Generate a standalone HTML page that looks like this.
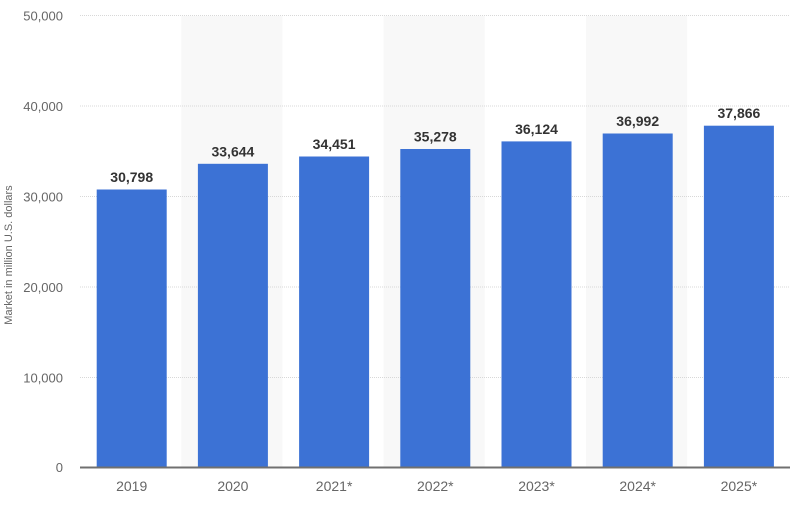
<!DOCTYPE html>
<html><head><meta charset="utf-8"><style>
html,body{margin:0;padding:0;background:#fff;}
svg{display:block;font-family:"Liberation Sans",sans-serif;}
</style></head><body>
<svg width="812" height="510" viewBox="0 0 812 510" xmlns="http://www.w3.org/2000/svg">
<rect width="812" height="510" fill="#fff"/>
<!-- shaded bands -->
<rect x="181.2" y="16" width="101.2" height="451" fill="#f8f8f8"/>
<rect x="383.6" y="16" width="101.2" height="451" fill="#f8f8f8"/>
<rect x="586" y="16" width="101.2" height="451" fill="#f8f8f8"/>
<!-- gridlines -->
<g stroke="#d8d8d8" stroke-width="1" stroke-dasharray="1,1">
<line x1="80" y1="15.5" x2="790" y2="15.5"/>
<line x1="80" y1="106" x2="790" y2="106"/>
<line x1="80" y1="196.5" x2="790" y2="196.5"/>
<line x1="80" y1="287" x2="790" y2="287"/>
<line x1="80" y1="377.5" x2="790" y2="377.5"/>
</g>
<!-- y tick labels -->
<g fill="#666" font-size="13" text-anchor="end">
<text x="63" y="20.5">50,000</text>
<text x="63" y="111">40,000</text>
<text x="63" y="201.5">30,000</text>
<text x="63" y="292">20,000</text>
<text x="63" y="382.5">10,000</text>
<text x="63" y="472">0</text>
</g>
<text transform="translate(12,255) rotate(-90)" fill="#666" font-size="11" text-anchor="middle">Market in million U.S. dollars</text>
<!-- bars -->
<g fill="#3c72d5">
<rect x="96.7" y="189.5" width="70" height="278"/>
<rect x="197.9" y="163.8" width="70" height="303.7"/>
<rect x="299.1" y="156.5" width="70" height="311"/>
<rect x="400.3" y="149" width="70" height="318.5"/>
<rect x="501.5" y="141.4" width="70" height="326.1"/>
<rect x="602.7" y="133.5" width="70" height="334"/>
<rect x="703.9" y="125.7" width="70" height="341.8"/>
</g>
<!-- value labels -->
<g fill="#333" font-size="14" font-weight="bold" text-anchor="middle">
<text x="131.7" y="182">30,798</text>
<text x="232.9" y="156.3">33,644</text>
<text x="334.1" y="149">34,451</text>
<text x="435.3" y="141.5">35,278</text>
<text x="536.5" y="133.9">36,124</text>
<text x="637.7" y="126">36,992</text>
<text x="738.9" y="118.2">37,866</text>
</g>
<!-- axis -->
<line x1="80" y1="467.5" x2="790" y2="467.5" stroke="#707070" stroke-width="2"/>
<!-- x labels -->
<g fill="#666" font-size="14" text-anchor="middle">
<text x="131.7" y="491">2019</text>
<text x="232.9" y="491">2020</text>
<text x="334.1" y="491">2021*</text>
<text x="435.3" y="491">2022*</text>
<text x="536.5" y="491">2023*</text>
<text x="637.7" y="491">2024*</text>
<text x="738.9" y="491">2025*</text>
</g>
</svg>
</body></html>
